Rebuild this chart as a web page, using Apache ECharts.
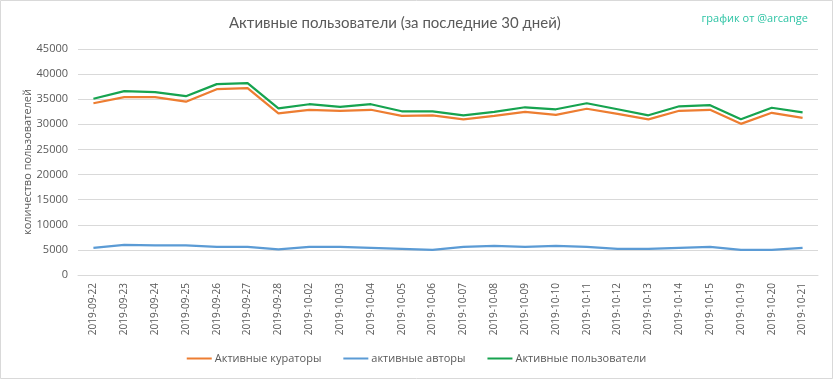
<!DOCTYPE html>
<html><head><meta charset="utf-8">
<script src="https://cdn.jsdelivr.net/npm/echarts@6/dist/echarts.min.js"></script>
<style>html,body{margin:0;padding:0;background:#fff}#c{width:833px;height:379px}</style>
</head><body><div id="c"></div>
<script>
const categories = ['2019-09-22','2019-09-23','2019-09-24','2019-09-25','2019-09-26','2019-09-27','2019-09-28','2019-10-02','2019-10-03','2019-10-04','2019-10-05','2019-10-06','2019-10-07','2019-10-08','2019-10-09','2019-10-10','2019-10-11','2019-10-12','2019-10-13','2019-10-14','2019-10-15','2019-10-19','2019-10-20','2019-10-21'];
const curators = [34200,35400,35400,34500,37000,37200,32200,32900,32700,32900,31700,31800,31000,31700,32500,31900,33100,32100,31000,32700,32900,30100,32300,31300];
const authors  = [5400,6000,5900,5900,5600,5600,5100,5600,5600,5400,5200,5000,5600,5800,5600,5800,5600,5200,5200,5400,5600,5000,5000,5400];
const users    = [35100,36600,36400,35600,38000,38200,33200,34000,33500,34000,32600,32600,31800,32500,33400,33000,34200,33000,31800,33600,33800,31000,33300,32400];
const seriesNames = ['Активные кураторы','активные авторы','Активные пользователи'];
const colors = ['#ED7D31','#5B9BD5','#16A34F'];
const font = 'Open Sans, Noto Sans, sans-serif';
const chart = echarts.init(document.getElementById('c'), null, {renderer:'canvas'});
chart.setOption({
  animation:false,
  backgroundColor:'#fff',
  color: colors,
  textStyle:{fontFamily:font},
  graphic:[{type:'rect',shape:{x:0.5,y:0.5,width:832,height:378},style:{fill:'none',stroke:'#d9d9d9',lineWidth:1},silent:true}],
  title:[
    {text:'Активные пользователи (за последние 30 дней)',left:224,top:11,textStyle:{fontSize:15,fontWeight:'normal',color:'#595959',fontFamily:'Lato, sans-serif'}},
    {text:'график от @arcange',right:20,top:8,textStyle:{fontSize:11,fontWeight:'normal',color:'#2EC4A5',fontFamily:font}}
  ],
  legend:{bottom:10,left:'center',itemWidth:25,itemHeight:2,itemGap:22,icon:'rect',
    textStyle:{fontSize:11,color:'#595959',fontFamily:font,padding:[0,0,0,-2]},data:seriesNames},
  grid:{left:78,right:15,top:49,bottom:104,containLabel:false},
  xAxis:{type:'category',data:categories,boundaryGap:true,
    axisLine:{lineStyle:{color:'#d9d9d9'}},axisTick:{show:false},
    axisLabel:{rotate:90,fontSize:10,color:'#595959',margin:8,interval:0,fontFamily:font}},
  yAxis:{type:'value',min:0,max:45000,interval:5000,
    name:'количество пользователей',nameLocation:'middle',nameGap:45,nameMoveOverlap:false,
    nameTextStyle:{fontSize:11,color:'#595959',fontFamily:font},
    axisLine:{show:false},axisTick:{show:false},
    axisLabel:{fontSize:11,color:'#595959',margin:10,fontFamily:font,formatter:v=>String(v)},
    splitLine:{lineStyle:{color:'#d9d9d9'}}},
  series:[
    {name:seriesNames[0],type:'line',data:curators,symbol:'none',lineStyle:{width:2.25}},
    {name:seriesNames[1],type:'line',data:authors,symbol:'none',lineStyle:{width:2.25}},
    {name:seriesNames[2],type:'line',data:users,symbol:'none',lineStyle:{width:2.25}}
  ]
});
</script></body></html>
